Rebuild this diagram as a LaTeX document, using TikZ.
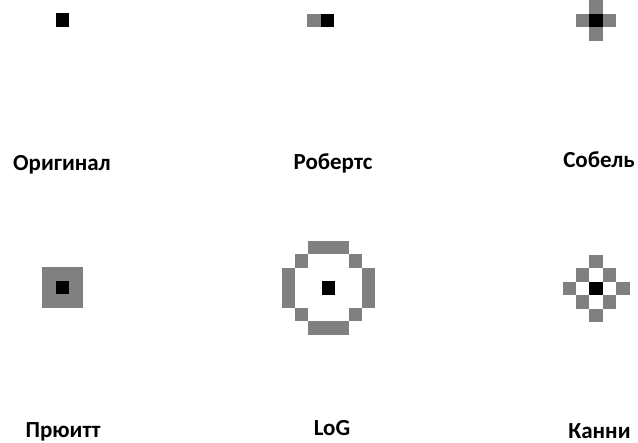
\documentclass[tikz,border=0pt]{standalone}
\usepackage{fontspec}
\setmainfont{Carlito}
\usetikzlibrary{positioning}

% one image pixel, centred on the scope origin
\newcommand{\pxl}[3]{\fill[#1] (#2*13.4-6.7,#3*13.4-6.7) rectangle ++(13.4,13.4);}

\begin{document}
\begin{tikzpicture}[
    x=1pt, y=-1pt,
    gpx/.style={fill=black!50},
    bpx/.style={fill=black},
    lbl/.style={font=\fontsize{23}{26}\selectfont\bfseries, anchor=base, inner sep=0pt}
]
\useasboundingbox (0,0) rectangle (638,443);

% top row
\begin{scope}[shift={(62.5,20)}]
  \pxl{bpx}{0}{0}
\end{scope}
\begin{scope}[shift={(327.5,20.5)}]
  \pxl{gpx}{-1}{0}
  \pxl{bpx}{0}{0}
\end{scope}
\begin{scope}[shift={(596,20.5)}]
  \foreach \i/\j in {-1/0,1/0,0/-1,0/1} {\pxl{gpx}{\i}{\j}}
  \pxl{bpx}{0}{0}
\end{scope}

% bottom row
\begin{scope}[shift={(62.5,287.5)}]
  \fill[gpx] (-20.1,-20.1) rectangle (20.1,20.1);
  \pxl{bpx}{0}{0}
\end{scope}
\begin{scope}[shift={(328.5,288)}]
  \foreach \i/\j in {-1/-3,0/-3,1/-3,-2/-2,2/-2,-3/-1,3/-1,-3/0,3/0,-3/1,3/1,-2/2,2/2,-1/3,0/3,1/3} {\pxl{gpx}{\i}{\j}}
  \pxl{bpx}{0}{0}
\end{scope}
\begin{scope}[shift={(596,288.5)}]
  \foreach \i/\j in {0/-2,-1/-1,1/-1,-2/0,2/0,-1/1,1/1,0/2} {\pxl{gpx}{\i}{\j}}
  \pxl{bpx}{0}{0}
\end{scope}

% labels
\node[lbl] (orig) at (62,170.5) {Оригинал};
\node[lbl] (rob) at (333,170) {Робертс};
\node[lbl] (sob) at (599,168) {Собель};
\node[lbl] (prew) at (63,438) {Прюитт};
\node[lbl] (log) at (332,436) {LoG};
\node[lbl] (canny) at (599.5,438.5) {Канни};
\end{tikzpicture}
\end{document}
